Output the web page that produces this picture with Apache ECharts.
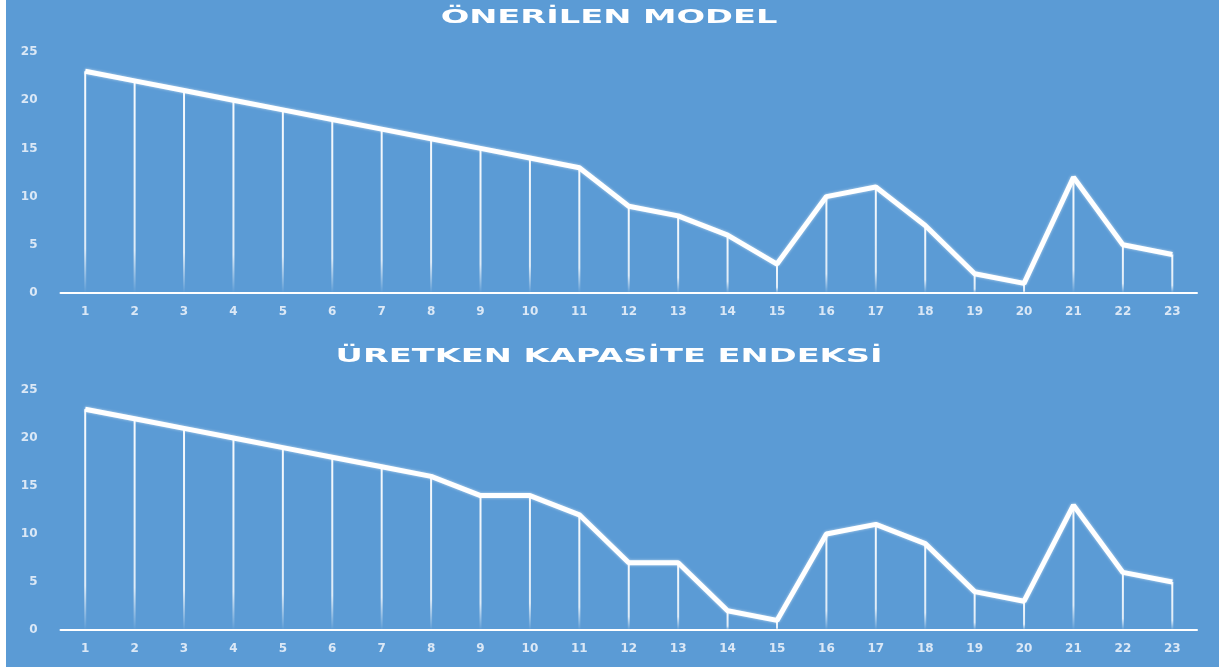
<!DOCTYPE html>
<html>
<head>
<meta charset="utf-8">
<script src="https://cdn.jsdelivr.net/npm/echarts@6/dist/echarts.min.js"></script>
<style>
  html, body { margin: 0; padding: 0; background: #ffffff; }
  #chart { position: absolute; left: 6px; top: 0; width: 1213px; height: 667px; }
</style>
</head>
<body>
<div id="chart"></div>
<script>
// data
var categories = ["1","2","3","4","5","6","7","8","9","10","11","12","13","14","15","16","17","18","19","20","21","22","23"];
var onerilenModel = [23,22,21,20,19,18,17,16,15,14,13,9,8,6,3,10,11,7,2,1,12,5,4];
var uretkenKapasite = [23,22,21,20,19,18,17,16,14,14,12,7,7,2,1,10,11,9,4,3,13,6,5];
var yTicks = [0, 5, 10, 15, 20, 25];
var titles = ["ÖNERİLEN MODEL", "ÜRETKEN KAPASİTE ENDEKSİ"];

var chart = echarts.init(document.getElementById("chart"));

var labelColor = "#dbe8f6";
var dropColor = new echarts.graphic.LinearGradient(0, 0, 0, 1, [
  { offset: 0, color: "rgba(255,255,255,0.95)" },
  { offset: 0.8, color: "rgba(255,255,255,0.8)" },
  { offset: 1, color: "rgba(255,255,255,0)" }
]);

function xAxisFor(idx) {
  return {
    type: "category",
    gridIndex: idx,
    data: categories,
    boundaryGap: true,
    axisTick: { show: false },
    axisLine: { lineStyle: { color: "#ffffff", width: 2 } },
    axisLabel: {
      color: labelColor,
      fontFamily: "DejaVu Sans",
      fontWeight: "bold",
      fontSize: 12,
      margin: 13
    }
  };
}

function yAxisFor(idx) {
  return {
    type: "value",
    gridIndex: idx,
    min: yTicks[0],
    max: yTicks[yTicks.length - 1],
    interval: 5,
    splitLine: { show: false },
    axisLine: { show: false },
    axisTick: { show: false },
    axisLabel: {
      color: labelColor,
      fontFamily: "DejaVu Sans",
      fontWeight: "bold",
      fontSize: 12,
      margin: 23
    }
  };
}

function seriesFor(idx, values) {
  return [
    {
      type: "bar",
      xAxisIndex: idx,
      yAxisIndex: idx,
      barWidth: 2,
      silent: true,
      itemStyle: { color: dropColor },
      data: values
    },
    {
      type: "line",
      xAxisIndex: idx,
      yAxisIndex: idx,
      symbol: "none",
      lineStyle: {
        color: "#ffffff",
        width: 5,
        shadowColor: "rgba(255,255,255,0.6)",
        shadowBlur: 3
      },
      z: 3,
      data: values
    }
  ];
}

function titleText(text, y) {
  return {
    type: "text",
    x: 603,
    y: y,
    scaleX: 1.77,
    style: {
      text: text,
      fill: "#ffffff",
      font: "bold 19px 'DejaVu Sans'",
      align: "center",
      verticalAlign: "middle",
      textAlign: "center",
      textVerticalAlign: "middle"
    }
  };
}

var option = {
  backgroundColor: "#5b9bd5",
  animation: false,
  graphic: [
    titleText(titles[0], 18),
    titleText(titles[1], 357)
  ],
  grid: [
    { left: 54.5, right: 22, top: 52, bottom: 374 },
    { left: 54.5, right: 22, top: 390, bottom: 37 }
  ],
  xAxis: [xAxisFor(0), xAxisFor(1)],
  yAxis: [yAxisFor(0), yAxisFor(1)],
  series: seriesFor(0, onerilenModel).concat(seriesFor(1, uretkenKapasite))
};

chart.setOption(option);
</script>
</body>
</html>
